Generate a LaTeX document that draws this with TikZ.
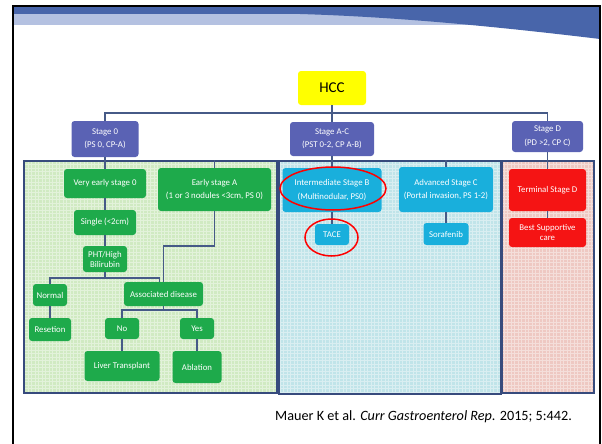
\documentclass[tikz,border=0pt]{standalone}
\usepackage{fontspec}
\setmainfont{Carlito}
\usetikzlibrary{shapes.geometric}
\definecolor{gfill}{RGB}{30,170,75}
\definecolor{bfill}{RGB}{25,175,220}
\definecolor{rfill}{RGB}{245,20,20}
\definecolor{stfill}{RGB}{90,98,180}
\definecolor{connc}{RGB}{70,90,135}
\definecolor{panelc}{RGB}{55,75,125}
\definecolor{hddark}{RGB}{72,101,170}
\definecolor{hdlight}{RGB}{180,193,225}
\definecolor{gbase}{RGB}{208,234,194}
\definecolor{bbase}{RGB}{192,228,233}
\definecolor{rbase}{RGB}{238,200,194}
\definecolor{hccy}{RGB}{255,255,0}
\tikzset{
  box/.style={rounded corners=3pt, text=white, align=center, inner sep=1pt,
    font=\fontsize{8.8}{13.5}\selectfont},
  tight/.style={font=\fontsize{8.8}{10}\selectfont},
  gbox/.style={box, fill=gfill},
  bbox/.style={box, fill=bfill},
  rbox/.style={box, fill=rfill},
  stbox/.style={box, fill=stfill},
  panel/.style={draw=panelc, line width=1.2pt, inner sep=0pt},
  conn/.style={draw=connc, line width=1.6pt},
  gridl/.style={white, line width=0.8pt, opacity=0.4},
  ring/.style={ellipse, draw=red, line width=1.5pt, inner sep=0pt}
}
\begin{document}
\begin{tikzpicture}[x=1pt,y=-1pt]
\useasboundingbox (0,0) rectangle (602,444);
% header
\fill[hdlight] (13,14) rectangle (600,25);
\fill[hddark] (13,6) rectangle (600,14);
\fill[hddark] (300,14) .. controls (400,17) and (500,27) .. (600,39) -- (600,14) -- cycle;
\draw[black, line width=2pt] (13,446) -- (13,6) -- (600,6) -- (600,446);
% panel fills
\fill[gbase] (24,161) rectangle (277,393);
\fill[bbase] (279,161) rectangle (501,394);
\fill[rbase] (502,161) rectangle (594,393);
\begin{scope}
\clip (24,161) rectangle (277,393);
\draw[gridl] (24,393) grid[step=3.5pt] (277,161);
\end{scope}
\begin{scope}
\clip (279,161) rectangle (501,394);
\draw[gridl] (279,394) grid[step=3.5pt] (501,161);
\end{scope}
\begin{scope}
\clip (502,161) rectangle (594,393);
\draw[gridl] (502,393) grid[step=3.5pt] (594,161);
\end{scope}
\node[panel, minimum width=253pt, minimum height=232pt] (gp) at (150.5,277) {};
\node[panel, minimum width=222pt, minimum height=233pt] (bp) at (390,277.5) {};
\node[panel, minimum width=92pt, minimum height=232pt] (rp) at (548,277) {};
% top nodes
\node[box, fill=hccy, text=black, font=\fontsize{15}{17}\selectfont, minimum width=68pt, minimum height=34pt] (hcc) at (332,88) {HCC};
\node[stbox, minimum width=67pt, minimum height=36pt] (s0) at (105,139) {Stage 0\\(PS 0, CP-A)};
\node[stbox, minimum width=84pt, minimum height=34pt] (sac) at (332,139) {Stage A-C\\(PST 0-2, CP A-B)};
\node[stbox, minimum width=71pt, minimum height=31pt] (sd) at (547.5,136.5) {Stage D\\(PD >2, CP C)};
% green nodes
\node[gbox, minimum width=82pt, minimum height=29pt] (ve) at (105,183.5) {Very early stage 0};
\node[gbox, minimum width=113pt, minimum height=43pt] (esa) at (214.5,189.5) {Early stage A\\(1 or 3 nodules <3cm, PS 0)};
\node[gbox, minimum width=62pt, minimum height=25pt] (sg) at (105,222.5) {Single (<2cm)};
\node[gbox, tight, minimum width=44pt, minimum height=26pt] (pht) at (105,259) {PHT/High\\Bilirubin};
\node[gbox, minimum width=34pt, minimum height=22pt] (nor) at (50,295) {Normal};
\node[gbox, minimum width=79pt, minimum height=24pt] (ad) at (163.5,294) {Associated disease};
\node[gbox, minimum width=42pt, minimum height=23pt] (res) at (50,329.5) {Resetion};
\node[gbox, minimum width=34pt, minimum height=21pt] (no) at (122,328.5) {No};
\node[gbox, minimum width=34pt, minimum height=21pt] (yes) at (197,328.5) {Yes};
\node[gbox, minimum width=75pt, minimum height=30pt] (lt) at (122,366) {Liver Transplant};
\node[gbox, minimum width=49pt, minimum height=32pt] (abl) at (197,367) {Ablation};
% blue nodes
\node[bbox, minimum width=99pt, minimum height=44pt] (ib) at (332,190) {Intermediate Stage B\\(Multinodular, PS0)};
\node[bbox, minimum width=94pt, minimum height=45pt] (ac) at (446,189.5) {Advanced Stage C\\(Portal invasion, PS 1-2)};
\node[bbox, minimum width=34pt, minimum height=21pt] (tace) at (332,234.5) {TACE};
\node[bbox, minimum width=45pt, minimum height=22pt] (sor) at (446,234) {Sorafenib};
% red nodes
\node[rbox, minimum width=77pt, minimum height=42pt] (td) at (547.5,190) {Terminal Stage D};
\node[rbox, tight, minimum width=77pt, minimum height=29pt] (bsc) at (547.5,232.5) {Best Supportive\\care};
% connectors
\coordinate (bus) at (332,113);
\coordinate (j1) at (105,278);
\coordinate (j2) at (214.5,246);
\coordinate (j3) at (163.5,310);
\draw[conn] (hcc.south) -- (sac.north);
\draw[conn] (s0.north) -- (s0.north |- bus) -- (sd.north |- bus) -- (sd.north);
\draw[conn] (s0.south) -- (ve.north);
\draw[conn] (esa.north |- gp.north) -- (esa.north);
\draw[conn] (ve.south) -- (sg.north);
\draw[conn] (sg.south) -- (pht.north);
\draw[conn] (pht.south) -- (j1);
\draw[conn] (nor.north) |- (j1) -| ([xshift=-4pt]ad.north);
\draw[conn] (esa.south) -- (j2) -| (ad.north);
\draw[conn] (ad.south) -- (j3);
\draw[conn] (no.north) |- (j3) -| (yes.north);
\draw[conn] (nor.south) -- (res.north);
\draw[conn] (no.south) -- (lt.north);
\draw[conn] (yes.south) -- (abl.north);
\draw[conn] (sac.south) -- (ib.north);
\draw[conn] (ac.north |- bp.north) -- (ac.north);
\draw[conn] (ib.south) -- (tace.north);
\draw[conn] (ac.south) -- (sor.north);
\draw[conn] (sd.south) -- (td.north);
\draw[conn] (td.south) -- (bsc.north);
% rings
\node[ring, minimum width=106pt, minimum height=43pt] (e1) at (333,188.5) {};
\node[ring, minimum width=53pt, minimum height=37pt] (e2) at (331.5,237.5) {};
% citation
\node[anchor=west, inner sep=0pt, font=\fontsize{14.2}{16}\selectfont] (cit) at (275,417) {Mauer K et al. \textit{Curr Gastroenterol Rep.} 2015; 5:442.};
\end{tikzpicture}
\end{document}
